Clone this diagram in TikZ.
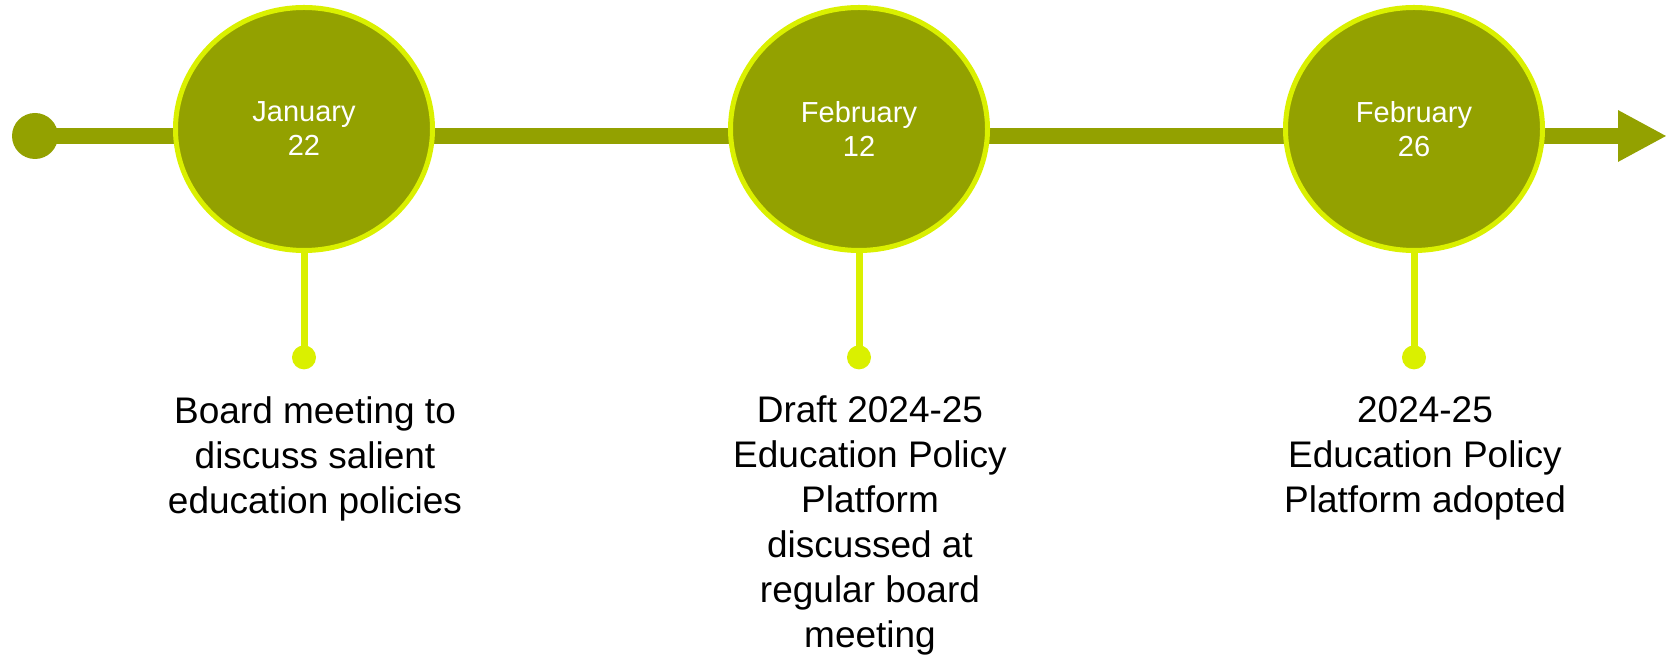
\documentclass[tikz,border=0pt]{standalone}
\usepackage{fontspec}
\setmainfont{Liberation Sans}
\usepackage{tikz}
\usetikzlibrary{shapes.geometric,arrows.meta,positioning}

\definecolor{tlolive}{RGB}{147,161,0}
\definecolor{tllime}{RGB}{218,240,0}

\begin{document}
\begin{tikzpicture}[x=0.5pt,y=-0.5pt]
  \tikzstyle{event}=[ellipse, fill=tlolive, draw=tllime, line width=2.5pt, minimum width=128.5pt, minimum height=121.5pt, inner sep=0pt, text=white, align=center, font=\fontsize{14.5}{17}\selectfont]
  \tikzstyle{pindot}=[circle, fill=tllime, minimum size=12pt, inner sep=0pt]
  \tikzstyle{stem}=[draw=tllime, line width=3.5pt]
  \tikzstyle{note}=[inner sep=0pt, align=center, font=\fontsize{18.5}{22.5}\selectfont]
  \tikzstyle{timeline}=[draw=tlolive, line width=8pt, -{Triangle[length=24.5pt, width=24pt]}]

  \useasboundingbox (0,0) rectangle (1667,656);

  % = time line =
  \node[circle, fill=tlolive, minimum size=23pt, inner sep=0pt] (start) at (35,136) {};
  \coordinate (tip) at (1667,136);
  \draw[timeline] (start.center) -- (tip);

  % dates on the line
  \node[event] (jan22) at (304,129) {January\\22};
  \node[event] (feb12) at (859,129) {February\\12};
  \node[event] (feb26) at (1414,129) {February\\26};

  % = pins below the dates =
  \node[pindot, below=46pt of jan22] (jan22dot) {};
  \node[pindot, below=46pt of feb12] (feb12dot) {};
  \node[pindot, below=46pt of feb26] (feb26dot) {};
  \draw[stem] (jan22.south) -- (jan22dot.center);
  \draw[stem] (feb12.south) -- (feb12dot.center);
  \draw[stem] (feb26.south) -- (feb26dot.center);

  % = what happens =
  \node[note, below=13pt of jan22dot, xshift=5.5pt] (jan22note) {Board meeting to\\discuss salient\\education policies};
  \node[note, below=13pt of feb12dot, xshift=5.5pt] (feb12note) {Draft 2024-25\\Education Policy\\Platform\\discussed at\\regular board\\meeting};
  \node[note, below=13pt of feb26dot, xshift=5.5pt] (feb26note) {2024-25\\Education Policy\\Platform adopted};
\end{tikzpicture}
\end{document}
